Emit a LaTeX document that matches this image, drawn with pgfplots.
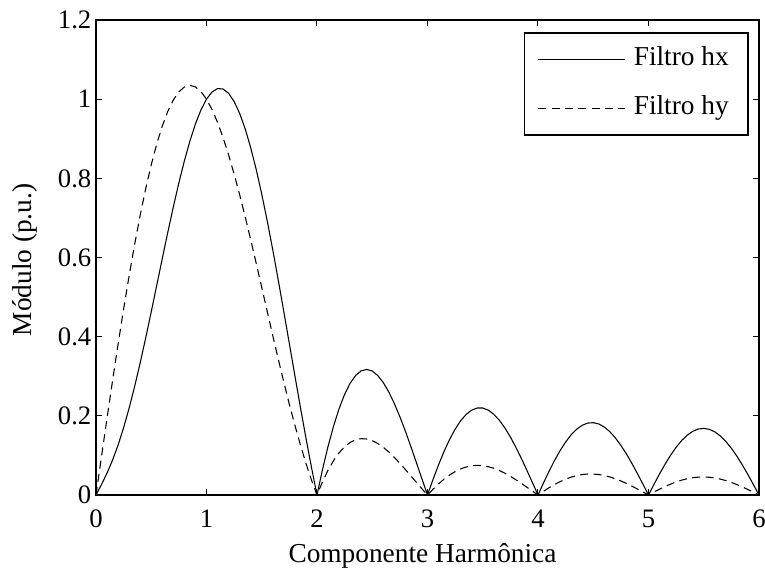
\documentclass[border=0pt]{standalone}
\usepackage{fontspec}
\setmainfont{Liberation Serif}
\usepackage{pgfplots}
\pgfplotsset{compat=1.18}

% Magnitude responses of the two filters, harmonic order 0 to 6
\newcommand{\hxdata}{
(0,0) (0.05,0.0266) (0.1,0.0554) (0.15,0.0882) (0.2,0.1263) (0.25,0.1701)
(0.3,0.2196) (0.35,0.2745) (0.4,0.3340) (0.45,0.3971) (0.5,0.4628)
(0.55,0.5301) (0.6,0.5975) (0.65,0.6639) (0.7,0.7279) (0.75,0.7885)
(0.8,0.8442) (0.85,0.8942) (0.9,0.9375) (0.95,0.9729) (1,1)
(1.05,1.0181) (1.1,1.0268) (1.15,1.0256) (1.2,1.0148) (1.25,0.9941)
(1.3,0.9642) (1.35,0.9251) (1.4,0.8775) (1.45,0.8222) (1.5,0.7601)
(1.55,0.6919) (1.6,0.6189) (1.65,0.5421) (1.7,0.4628) (1.75,0.3821)
(1.8,0.3012) (1.85,0.2215) (1.9,0.1439) (1.95,0.0698) (2,0)
(2.05,0.0644) (2.1,0.1227) (2.15,0.1741) (2.2,0.2181) (2.25,0.2542)
(2.3,0.2823) (2.35,0.3020) (2.4,0.3137) (2.45,0.3172) (2.5,0.3132)
(2.55,0.3019) (2.6,0.2840) (2.65,0.2601) (2.7,0.2311) (2.75,0.1978)
(2.8,0.1611) (2.85,0.1221) (2.9,0.0815) (2.95,0.0405) (3,0)
(3.05,0.0392) (3.1,0.0761) (3.15,0.1100) (3.2,0.1403) (3.25,0.1662)
(3.3,0.1875) (3.35,0.2036) (3.4,0.2144) (3.45,0.2198) (3.5,0.2197)
(3.55,0.2143) (3.6,0.2039) (3.65,0.1888) (3.7,0.1696) (3.75,0.1466)
(3.8,0.1206) (3.85,0.0922) (3.9,0.0621) (3.95,0.0312) (4,0)
(4.05,0.0306) (4.1,0.0599) (4.15,0.0873) (4.2,0.1121) (4.25,0.1338)
(4.3,0.1520) (4.35,0.1662) (4.4,0.1761) (4.45,0.1817) (4.5,0.1827)
(4.55,0.1794) (4.6,0.1717) (4.65,0.1599) (4.7,0.1444) (4.75,0.1255)
(4.8,0.1038) (4.85,0.0798) (4.9,0.0541) (4.95,0.0272) (5,0)
(5.05,0.0270) (5.1,0.0532) (5.15,0.0779) (5.2,0.1005) (5.25,0.1205)
(5.3,0.1375) (5.35,0.1510) (5.4,0.1608) (5.45,0.1666) (5.5,0.1683)
(5.55,0.1659) (5.6,0.1595) (5.65,0.1492) (5.7,0.1353) (5.75,0.1181)
(5.8,0.0981) (5.85,0.0757) (5.9,0.0515) (5.95,0.0261) (6,0)
}
\newcommand{\hydata}{
(0,0) (0.05,0.0976) (0.1,0.1942) (0.15,0.2890) (0.2,0.3812) (0.25,0.4699)
(0.3,0.5542) (0.35,0.6334) (0.4,0.7069) (0.45,0.7740) (0.5,0.8342)
(0.55,0.8870) (0.6,0.9321) (0.65,0.9692) (0.7,0.9981) (0.75,1.0186)
(0.8,1.0308) (0.85,1.0348) (0.9,1.0309) (0.95,1.0191) (1,1)
(1.05,0.9739) (1.1,0.9414) (1.15,0.9029) (1.2,0.8592) (1.25,0.8108)
(1.3,0.7585) (1.35,0.7030) (1.4,0.6449) (1.45,0.5852) (1.5,0.5244)
(1.55,0.4632) (1.6,0.4025) (1.65,0.3428) (1.7,0.2848) (1.75,0.2290)
(1.8,0.1761) (1.85,0.1263) (1.9,0.0801) (1.95,0.0380) (2,0)
(2.05,0.0335) (2.1,0.0625) (2.15,0.0869) (2.2,0.1067) (2.25,0.1219)
(2.3,0.1328) (2.35,0.1395) (2.4,0.1423) (2.45,0.1414) (2.5,0.1372)
(2.55,0.1301) (2.6,0.1204) (2.65,0.1086) (2.7,0.0950) (2.75,0.0801)
(2.8,0.0643) (2.85,0.0480) (2.9,0.0317) (2.95,0.0155) (3,0)
(3.05,0.0146) (3.1,0.0280) (3.15,0.0401) (3.2,0.0505) (3.25,0.0591)
(3.3,0.0659) (3.35,0.0708) (3.4,0.0738) (3.45,0.0749) (3.5,0.0741)
(3.55,0.0716) (3.6,0.0675) (3.65,0.0619) (3.7,0.0551) (3.75,0.0472)
(3.8,0.0385) (3.85,0.0292) (3.9,0.0195) (3.95,0.0097) (4,0)
(4.05,0.0094) (4.1,0.0183) (4.15,0.0264) (4.2,0.0337) (4.25,0.0400)
(4.3,0.0451) (4.35,0.0490) (4.4,0.0516) (4.45,0.0530) (4.5,0.0530)
(4.55,0.0517) (4.6,0.0493) (4.65,0.0457) (4.7,0.0410) (4.75,0.0355)
(4.8,0.0292) (4.85,0.0224) (4.9,0.0151) (4.95,0.0076) (5,0)
(5.05,0.0075) (5.1,0.0147) (5.15,0.0214) (5.2,0.0275) (5.25,0.0329)
(5.3,0.0375) (5.35,0.0411) (5.4,0.0436) (5.45,0.0451) (5.5,0.0455)
(5.55,0.0448) (5.6,0.0430) (5.65,0.0402) (5.7,0.0364) (5.75,0.0317)
(5.8,0.0263) (5.85,0.0203) (5.9,0.0138) (5.95,0.0070) (6,0)
}

\begin{document}
\begin{tikzpicture}
\begin{axis}[
  scale only axis,
  width=497.25pt, height=356.25pt,
  xmin=0, xmax=6, ymin=0, ymax=1.2,
  xtick={0,1,2,3,4,5,6},
  ytick={0,0.2,0.4,0.6,0.8,1,1.2},
  tick align=inside, tick pos=both,
  major tick length=4.5pt,
  every tick/.style={black, line width=0.75pt},
  axis line style={line width=1.3pt},
  /pgf/number format/assume math mode=true,
  tick label style={font=\fontsize{20}{23}\selectfont},
  xticklabel style={yshift=-7.5pt},
  label style={font=\fontsize{20.5}{24}\selectfont},
  xlabel={Componente Harmônica},
  ylabel={Módulo (p.u.)},
  xlabel style={at={(axis description cs:0.4925,-0.1421)}, anchor=base, inner sep=0pt},
  ylabel style={at={(axis description cs:-0.1267,0.495)}, anchor=north, inner sep=0pt},
  legend image code/.code={\draw[#1] (0pt,0pt) -- (65.25pt,0pt);},
  legend style={
    at={(axis description cs:0.9849,0.9747)}, anchor=north east,
    draw=black, line width=1.3pt,
    inner xsep=10pt, inner ysep=11.7pt, row sep=21.1pt,
    /tikz/every odd column/.append style={column sep=6pt},
    nodes={inner sep=0pt, text height=12.5pt, text depth=3.5pt,
           font=\fontsize{20.5}{24}\selectfont, anchor=west},
  },
]
\addplot[black, line width=0.8pt] coordinates {\hxdata};
\addlegendentry{Filtro hx\kern4.5pt}
\addplot[black, line width=0.8pt, dash pattern=on 6pt off 4pt] coordinates {\hydata};
\addlegendentry{Filtro hy\kern4.5pt}
\end{axis}
\pgfresetboundingbox
\useasboundingbox (-72pt,-56.25pt) rectangle (501.75pt,371.25pt);
\end{tikzpicture}
\end{document}
